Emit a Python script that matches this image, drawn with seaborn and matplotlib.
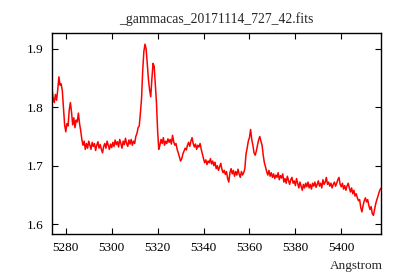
import numpy as np
import pandas as pd
import matplotlib
matplotlib.use("Agg")
import matplotlib.pyplot as plt
import seaborn as sns

# spectrum, one value every 0.5 A starting at 5274.0
start_wave = 5274.0
step_wave = 0.5
flux = [
    1.832, 1.815, 1.808, 1.822, 1.812, 1.830, 1.852, 1.838, 1.840, 1.828,
    1.800, 1.770, 1.758, 1.772, 1.768, 1.795, 1.808, 1.792, 1.770, 1.782,
    1.765, 1.778, 1.775, 1.790, 1.772, 1.760, 1.745, 1.735, 1.742, 1.728,
    1.738, 1.730, 1.742, 1.735, 1.728, 1.740, 1.733, 1.738, 1.726, 1.735,
    1.741, 1.730, 1.736, 1.728, 1.722, 1.733, 1.738, 1.730, 1.742, 1.735,
    1.728, 1.737, 1.731, 1.740, 1.733, 1.744, 1.736, 1.741, 1.732, 1.745,
    1.738, 1.730, 1.742, 1.736, 1.747, 1.738, 1.733, 1.744, 1.737, 1.745,
    1.735, 1.742, 1.738, 1.750, 1.755, 1.765, 1.768, 1.790, 1.815, 1.862,
    1.895, 1.908, 1.900, 1.875, 1.848, 1.830, 1.818, 1.848, 1.875, 1.870,
    1.840, 1.808, 1.760, 1.728, 1.735, 1.745, 1.738, 1.748, 1.735, 1.742,
    1.738, 1.746, 1.740, 1.745, 1.737, 1.752, 1.741, 1.735, 1.738, 1.728,
    1.722, 1.715, 1.708, 1.712, 1.720, 1.725, 1.730, 1.727, 1.735, 1.740,
    1.733, 1.742, 1.748, 1.738, 1.732, 1.737, 1.728, 1.735, 1.732, 1.738,
    1.728, 1.720, 1.712, 1.705, 1.710, 1.702, 1.708, 1.705, 1.712, 1.703,
    1.708, 1.700, 1.706, 1.695, 1.700, 1.692, 1.698, 1.704, 1.694, 1.688,
    1.692, 1.685, 1.690, 1.678, 1.672, 1.688, 1.695, 1.686, 1.692, 1.682,
    1.690, 1.684, 1.694, 1.686, 1.680, 1.690, 1.684, 1.688, 1.695, 1.720,
    1.730, 1.742, 1.748, 1.762, 1.745, 1.735, 1.722, 1.718, 1.725, 1.735,
    1.744, 1.750, 1.742, 1.735, 1.718, 1.705, 1.698, 1.690, 1.684, 1.692,
    1.682, 1.688, 1.680, 1.686, 1.678, 1.684, 1.680, 1.688, 1.676, 1.683,
    1.679, 1.686, 1.672, 1.678, 1.670, 1.682, 1.675, 1.668, 1.676, 1.680,
    1.670, 1.674, 1.666, 1.678, 1.670, 1.662, 1.672, 1.665, 1.658, 1.668,
    1.662, 1.670, 1.664, 1.672, 1.662, 1.668, 1.660, 1.670, 1.665, 1.672,
    1.663, 1.668, 1.674, 1.665, 1.670, 1.662, 1.676, 1.668, 1.672, 1.680,
    1.668, 1.672, 1.665, 1.670, 1.662, 1.668, 1.672, 1.665, 1.670, 1.676,
    1.680, 1.668, 1.664, 1.670, 1.660, 1.666, 1.658, 1.665, 1.670, 1.662,
    1.655, 1.662, 1.652, 1.658, 1.648, 1.652, 1.645, 1.640, 1.642, 1.628,
    1.621, 1.632, 1.640, 1.645, 1.638, 1.642, 1.632, 1.625, 1.630, 1.618,
    1.615, 1.625, 1.635, 1.642, 1.648, 1.655, 1.660, 1.662,
]
wave = start_wave + step_wave * np.arange(len(flux))

x_ticks = [5280, 5300, 5320, 5340, 5360, 5380, 5400]
y_ticks = [1.6, 1.7, 1.8, 1.9]
title = "_gammacas_20171114_727_42.fits"
xlabel = "Angstrom"

df = pd.DataFrame({"wave": wave, "flux": flux})

sns.set_style("ticks")
plt.rcParams["font.family"] = ["Liberation Serif", "DejaVu Serif"]

fig = plt.figure(figsize=(4, 2.8), dpi=100)
ax = fig.add_axes([0.13, 0.164, 0.8225, 0.718])
sns.lineplot(data=df, x="wave", y="flux", color="red", lw=1.1, ax=ax)

ax.set_xlim(5274.0, 5417.3)
ax.set_ylim(1.583, 1.927)
ax.set_xticks(x_ticks)
ax.set_yticks(y_ticks)
ax.tick_params(direction="in", top=True, right=True, length=4, width=0.8,
               labelsize=9.5, colors="black", pad=6)
for s in ax.spines.values():
    s.set_linewidth(1.0)
    s.set_color("black")
ax.set_xlabel("")
ax.set_ylabel("")
ax.set_title(title, fontsize=9.8, pad=7)
fig.text(0.9575, 0.05, xlabel, ha="right", va="center", fontsize=9.5)

fig.savefig("out.png", dpi=100)
